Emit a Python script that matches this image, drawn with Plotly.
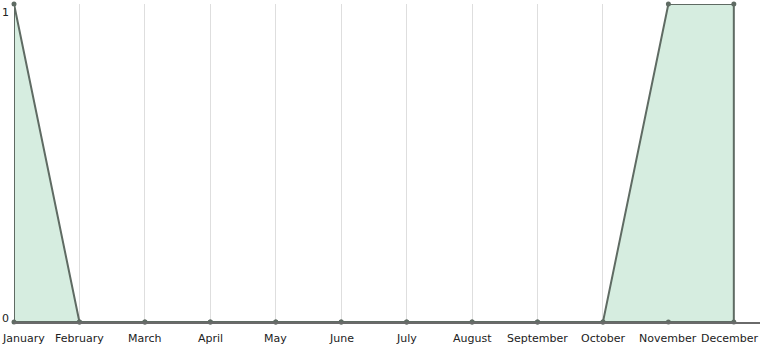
import plotly.graph_objects as go

months = ["January", "February", "March", "April", "May", "June", "July",
          "August", "September", "October", "November", "December"]
values = [1, 0, 0, 0, 0, 0, 0, 0, 0, 0, 1, 1]
y_ticks = [0, 1]

line_color = "#5f6b63"
fill_color = "rgb(214,237,224)"
text_color = "#222"
font_family = "DejaVu Sans"

idx = list(range(len(months)))
# closed outline of the area (baseline -> values -> baseline)
poly_x = [idx[0]] + idx + [idx[-1], idx[0]]
poly_y = [0] + values + [0, 0]

fig = go.Figure()
fig.add_trace(go.Scatter(
    x=poly_x, y=poly_y, mode="lines", fill="toself", fillcolor=fill_color,
    line=dict(color=line_color, width=2), cliponaxis=False, hoverinfo="skip",
))
fig.add_trace(go.Scatter(
    x=idx, y=values, mode="markers",
    marker=dict(color=line_color, size=5), cliponaxis=False, hoverinfo="skip",
))
fig.add_trace(go.Scatter(
    x=idx, y=[0] * len(idx), mode="markers",
    marker=dict(color=line_color, size=5), cliponaxis=False, hoverinfo="skip",
))

annotations = []
for i, m in enumerate(months):
    if i == 0:
        annotations.append(dict(x=i, y=0, xref="x", yref="paper", text=m,
                                showarrow=False, xanchor="left", yanchor="top",
                                xshift=-14, yshift=-8))
    elif i == len(months) - 1:
        annotations.append(dict(x=i, y=0, xref="x", yref="paper", text=m,
                                showarrow=False, xanchor="center", yanchor="top",
                                xshift=-4, yshift=-8))
    else:
        annotations.append(dict(x=i, y=0, xref="x", yref="paper", text=m,
                                showarrow=False, xanchor="center", yanchor="top",
                                yshift=-8))
for v in y_ticks:
    annotations.append(dict(x=0, y=v, xref="paper", yref="y", text=str(v),
                            showarrow=False, xanchor="right",
                            yanchor="top" if v == 1 else "middle",
                            xshift=-3, yshift=0 if v == 1 else 4))

fig.update_layout(
    width=761, height=351,
    margin=dict(l=14, r=1, t=4, b=29),
    paper_bgcolor="white", plot_bgcolor="white",
    showlegend=False,
    font=dict(family=font_family, size=11, color=text_color),
    annotations=annotations,
    xaxis=dict(
        tickmode="array", tickvals=idx, showticklabels=False,
        range=[0, 11.4], showgrid=True, gridcolor="#dedede", gridwidth=1,
        zeroline=False, showline=True, linecolor="#6a6a6a", linewidth=2,
        ticks="", fixedrange=True,
    ),
    yaxis=dict(
        tickmode="array", tickvals=y_ticks, showticklabels=False,
        range=[0, 1], showgrid=False, zeroline=False, showline=False,
        ticks="", fixedrange=True,
    ),
)

fig.write_html("out.html")
